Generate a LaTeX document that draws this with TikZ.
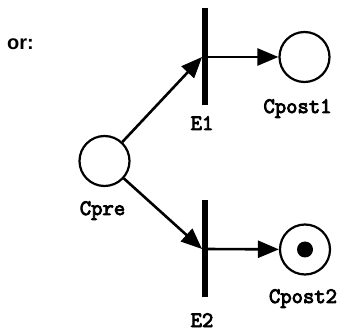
\documentclass[tikz,border=0pt]{standalone}
\usepackage{fontspec}
\newfontfamily\labmono[FakeBold=4]{Latin Modern Mono}
\newfontfamily\labsans{Liberation Sans}
\usetikzlibrary{arrows.meta}
\begin{document}
\begin{tikzpicture}[x=1pt,y=-1pt,
  place/.style={circle,draw,line width=2.2pt,minimum size=50pt,inner sep=0pt},
  trans/.style={rectangle,fill=black,minimum width=5.5pt,minimum height=97pt,inner sep=0pt},
  arc/.style={line width=2.6pt,-{Triangle[length=21pt,width=17pt]}},
  lab/.style={anchor=base,font=\labmono\fontsize{22}{22}\selectfont,inner sep=0pt},
  token/.style={circle,fill=black,minimum size=16pt,inner sep=0pt}]
\useasboundingbox (0,0) rectangle (351,331);
\fill[white] (0,0) rectangle (351,331);
\node[anchor=base west,inner sep=0pt,font=\labsans\bfseries\fontsize{20}{20}\selectfont] (or) at (7,50) {or:};
\node[place] (Cpre) at (104.5,161) {};
\node[trans] (E1) at (205,57) {};
\node[trans] (E2) at (205,249) {};
\node[place] (Cpost1) at (304.5,57) {};
\node[place] (Cpost2) at (305,249.5) {};
\node[token] (tok) at (Cpost2) {};
\draw[arc] (Cpre) -- (E1.west);
\draw[arc] (Cpre) -- (E2.west);
\draw[arc] (E1.center) -- (Cpost1);
\draw[arc] (E2.center) -- (Cpost2);
\node[lab] (lE1) at (202,130) {E1};
\node[lab] (lE2) at (202,327) {E2};
\node[lab] (lCpre) at (102.5,215) {Cpre};
\node[lab] (lCpost1) at (297.5,113) {Cpost1};
\node[lab] (lCpost2) at (303,303) {Cpost2};
\end{tikzpicture}
\end{document}
